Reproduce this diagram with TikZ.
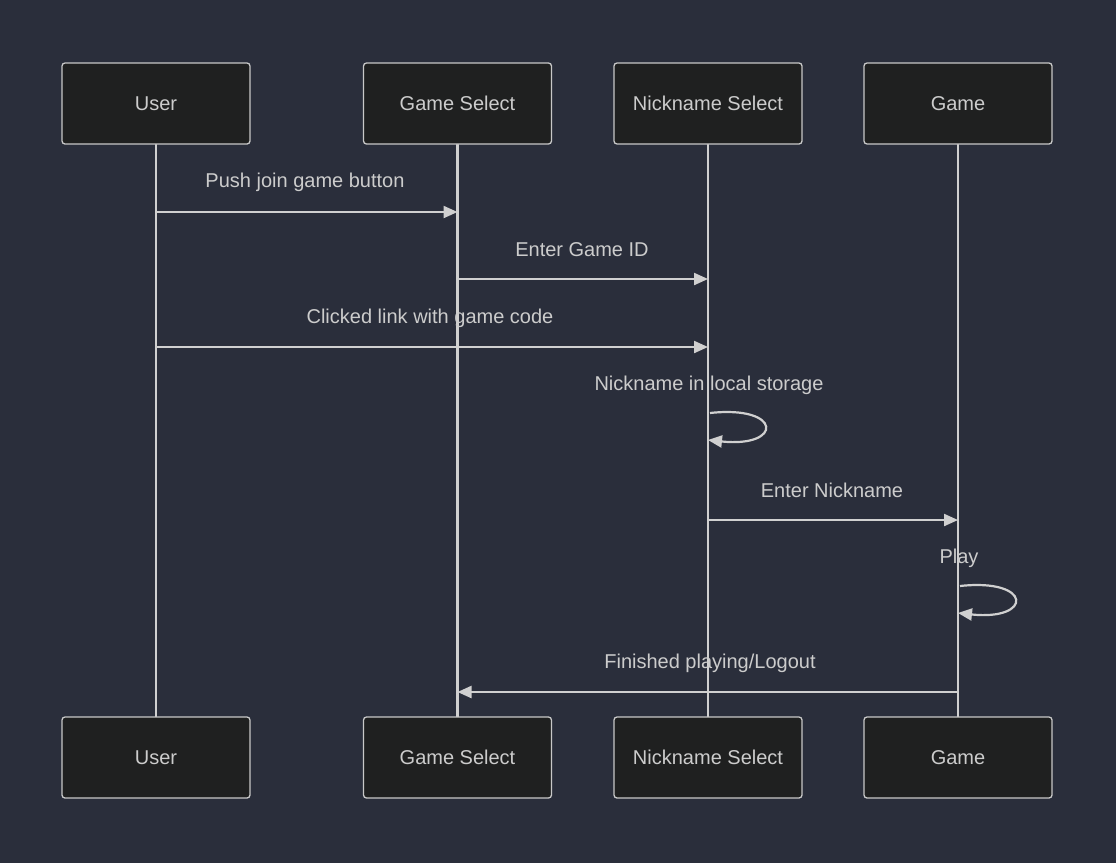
\documentclass[tikz,border=0pt]{standalone}
\usepackage{fontspec}
\setmainfont{Liberation Sans}
\usetikzlibrary{arrows.meta}
\definecolor{bgc}{HTML}{2A2E3B}
\definecolor{boxfill}{HTML}{1F2020}
\definecolor{boxline}{HTML}{C8C8C8}
\definecolor{txt}{HTML}{CCCCCC}
\definecolor{linec}{HTML}{D0D0D0}
\tikzset{
  actor/.style={draw=boxline, fill=boxfill, line width=1.3pt, rounded corners=3pt, minimum width=188pt, minimum height=81pt, inner sep=0pt, text=txt, font=\fontsize{20}{24}\selectfont},
  life/.style={draw=linec, line width=2.4pt},
  msg/.style={draw=linec, line width=2.2pt, -{Triangle[length=14pt,width=12pt]}},
  lbl/.style={text=txt, font=\fontsize{20}{24}\selectfont, inner sep=0pt},
}
\begin{document}
\begin{tikzpicture}[x=1pt,y=-1pt]
\fill[bgc] (0,0) rectangle (1116,863);
\useasboundingbox (0,0) rectangle (1116,863);
% lifelines
\coordinate (uT) at (156,144); \coordinate (uB) at (156,717);
\coordinate (gsT) at (457.5,144); \coordinate (gsB) at (457.5,717);
\coordinate (nsT) at (708,144); \coordinate (nsB) at (708,717);
\coordinate (gT) at (958,144); \coordinate (gB) at (958,717);
\draw[life] (uT) -- (uB);
\draw[life] (gsT) -- (gsB);
\draw[life] (nsT) -- (nsB);
\draw[life] (gT) -- (gB);
% actors
\node[actor] (u1) at (156,103.5) {User};
\node[actor] (gs1) at (457.5,103.5) {Game Select};
\node[actor] (ns1) at (708,103.5) {Nickname Select};
\node[actor] (g1) at (958,103.5) {Game};
\node[actor] (u2) at (156,757.5) {User};
\node[actor] (gs2) at (457.5,757.5) {Game Select};
\node[actor] (ns2) at (708,757.5) {Nickname Select};
\node[actor] (g2) at (958,757.5) {Game};
% messages
\coordinate (m1a) at (156,212); \coordinate (m1b) at (457.5,212);
\draw[msg] (m1a) -- (m1b);
\node[lbl] (l1) at (305,182) {Push join game button};
\coordinate (m2a) at (457.5,279); \coordinate (m2b) at (708,279);
\draw[msg] (m2a) -- (m2b);
\node[lbl] (l2) at (582,250) {Enter Game ID};
\coordinate (m3a) at (156,347); \coordinate (m3b) at (708,347);
\draw[msg] (m3a) -- (m3b);
\node[lbl] (l3) at (430,318) {Clicked link with game code};
\node[lbl] (l4) at (709,385) {Nickname in local storage};
\coordinate (m4a) at (710,413); \coordinate (m4b) at (708,440);
\draw[msg] (m4a) .. controls (783,405) and (783,448) .. (m4b);
\coordinate (m5a) at (708,520); \coordinate (m5b) at (958,520);
\draw[msg] (m5a) -- (m5b);
\node[lbl] (l5) at (832,490) {Enter Nickname};
\node[lbl] (l6) at (959,558) {Play};
\coordinate (m6a) at (960,586); \coordinate (m6b) at (958,613);
\draw[msg] (m6a) .. controls (1033,578) and (1033,621) .. (m6b);
\coordinate (m7a) at (958,692); \coordinate (m7b) at (457.5,692);
\draw[msg] (m7a) -- (m7b);
\node[lbl] (l7) at (710,663) {Finished playing/Logout};
\end{tikzpicture}
\end{document}
